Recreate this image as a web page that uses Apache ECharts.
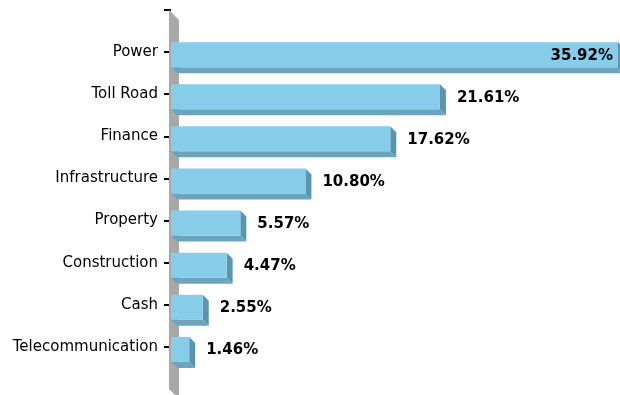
<!DOCTYPE html>
<html>
<head>
<meta charset="utf-8">
<script src="https://cdn.jsdelivr.net/npm/echarts@6/dist/echarts.min.js"></script>
<style>
  html, body { margin: 0; padding: 0; background: #ffffff; }
  #chart { width: 620px; height: 395px; }
</style>
</head>
<body>
<div id="chart"></div>
<script>
// Portfolio split by sector, in percent
const categories = ['Power', 'Toll Road', 'Finance', 'Infrastructure', 'Property', 'Construction', 'Cash', 'Telecommunication'];
const shares = [35.92, 21.61, 17.62, 10.80, 5.57, 4.47, 2.55, 1.46];
// slot 0 is the empty band at the top of the axis; categories start at slot 1
const slots = [1, 2, 3, 4, 5, 6, 7, 8];
const slotCount = 9;
const shareMax = 36;

const FACE = '#87cdea';
const BOTTOM = '#6ca4bd';
const SIDE = '#5d93ab';
const WALL = '#a8a8a8';

// 3D-looking bar: flat face plus a right side and a bottom side
function renderBar(params, api) {
  const v = api.value(0);
  const slot = api.value(1);
  const start = api.coord([0, slot]);
  const end = api.coord([v, slot]);
  const band = api.size([0, 1])[1];
  const h = band * 0.594;
  const d = band * 0.1425;
  const x0 = start[0], x1 = end[0];
  const y0 = start[1] - band * 0.237, y1 = y0 + h;
  const cs = params.coordSys;
  const text = v.toFixed(2) + '%';
  const inside = x1 + d + 12 + 66 > cs.x + cs.width;
  return {
    type: 'group',
    children: [
      { type: 'polygon', shape: { points: [[x0, y1], [x1, y1], [x1 + d, y1 + d], [x0 + d, y1 + d]] }, style: { fill: BOTTOM } },
      { type: 'polygon', shape: { points: [[x1, y0], [x1 + d, y0 + d], [x1 + d, y1 + d], [x1, y1]] }, style: { fill: SIDE } },
      { type: 'rect', shape: { x: x0, y: y0, width: x1 - x0, height: h }, style: { fill: FACE } },
      {
        type: 'text',
        style: {
          text: text,
          x: inside ? x1 - 5 : x1 + 17,
          y: (y0 + y1) / 2 + 1,
          align: inside ? 'right' : 'left',
          verticalAlign: 'middle',
          font: 'bold 15px "DejaVu Sans"',
          fill: '#000000'
        }
      }
    ]
  };
}

// gray slanted wall along the category axis
function renderWall(params, api) {
  const top = api.coord([0, 0]);
  const bot = api.coord([0, slotCount]);
  const x = top[0];
  return {
    type: 'polygon',
    shape: { points: [[x - 2, top[1]], [x + 8, top[1] + 10], [x + 8, bot[1] + 10], [x - 2, bot[1]]] },
    style: { fill: WALL }
  };
}

const chart = echarts.init(document.getElementById('chart'), null, { renderer: 'canvas' });
chart.setOption({
  animation: false,
  grid: { left: 171, right: 1, top: 10, bottom: 6, containLabel: false, outerBoundsMode: 'none' },
  xAxis: { type: 'value', min: 0, max: shareMax, show: false },
  yAxis: {
    type: 'value',
    inverse: true,
    min: 0,
    max: slotCount,
    interval: 1,
    offset: 2,
    axisLine: { show: false },
    splitLine: { show: false },
    axisTick: {
      show: true,
      length: 7,
      lineStyle: { color: '#000000', width: 2 },
      customValues: [0].concat(slots)
    },
    axisLabel: {
      customValues: slots,
      margin: 11,
      color: '#000000',
      fontSize: 15,
      fontFamily: 'DejaVu Sans',
      formatter: function (val) { return categories[Math.round(val) - 1] || ''; }
    }
  },
  series: [
    {
      type: 'custom',
      z: 1,
      clip: false,
      silent: true,
      renderItem: renderWall,
      data: [[0, 0]]
    },
    {
      type: 'custom',
      z: 2,
      clip: false,
      renderItem: renderBar,
      encode: { x: 0, y: 1 },
      data: shares.map(function (v, i) { return [v, slots[i]]; })
    }
  ]
});
</script>
</body>
</html>
